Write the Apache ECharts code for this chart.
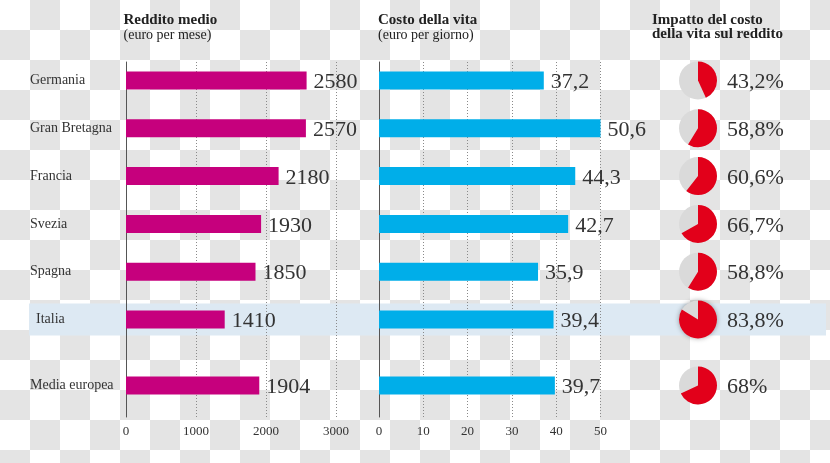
<!DOCTYPE html>
<html>
<head>
<meta charset="utf-8">
<script src="https://cdn.jsdelivr.net/npm/echarts@6/dist/echarts.min.js"></script>
<style>
  html, body { margin: 0; padding: 0; }
  #chart {
    width: 830px; height: 463px;
    background-color: #ffffff;
    background-image: repeating-conic-gradient(#e4e4e4 0% 25%, #ffffff 0% 50%);
    background-size: 60px 60px;
    background-position: 0 0;
  }
</style>
</head>
<body>
<div id="chart"></div>
<script>
// ---- data ----
const countries = ['Germania', 'Gran Bretagna', 'Francia', 'Svezia', 'Spagna', 'Italia'];
const averageLabel = 'Media europea';
const reddito = [2580, 2570, 2180, 1930, 1850, 1410];
const redditoMedia = 1904;
const costo = [37.2, 50.6, 44.3, 42.7, 35.9, 39.4];
const costoMedia = 39.7;
const impatto = [43.2, 58.8, 60.6, 66.7, 58.8, 83.8];
const impattoMedia = 68;
const redditoTicks = { min: 0, max: 3000, interval: 1000 };
const costoTicks = { min: 0, max: 50, interval: 10 };
const highlighted = 'Italia';

// ---- layout ----
const FONT = '"Liberation Serif", "DejaVu Serif", serif';
const ROW0 = 80.5, STEP = 47.8;
const AVG_CENTER = 385.5;
const FRAME_TOP = 62, FRAME_BOTTOM = 417;
const cols = [
  { left: 126, width: 210 },
  { left: 379, width: 221.5 },
  { left: 698, width: 1 }
];
const topA = ROW0 - STEP / 2, heightA = STEP * countries.length;
const topB = AVG_CENTER - STEP / 2, heightB = STEP;

const fmt = v => String(v).replace('.', ',');

const grids = [], xAxes = [], yAxes = [], series = [];

// frame grids (axes, grid lines)
[redditoTicks, costoTicks].forEach((t, c) => {
  grids.push({ left: cols[c].left, width: cols[c].width, top: FRAME_TOP, height: FRAME_BOTTOM - FRAME_TOP });
  const gi = grids.length - 1;
  xAxes.push({
    gridIndex: gi, type: 'value', min: t.min, max: t.max, interval: t.interval,
    axisLine: { show: false }, axisTick: { show: false },
    axisLabel: { fontFamily: FONT, fontSize: 13, color: '#333', margin: 8, formatter: v => String(v) },
    splitLine: { show: true, lineStyle: { color: '#8a8a8a', width: 1, type: [1, 2] } }
  });
  yAxes.push({
    gridIndex: gi, type: 'value', min: 0, max: 1,
    axisLine: { show: true, lineStyle: { color: '#555', width: 1 } },
    axisTick: { show: false }, axisLabel: { show: false }, splitLine: { show: false }
  });
});

function addGrid(col, top, height, cats, showLabels, xr) {
  grids.push({ left: cols[col].left, width: cols[col].width, top: top, height: height });
  const gi = grids.length - 1;
  xAxes.push({ gridIndex: gi, type: 'value', min: xr.min, max: xr.max, show: false });
  yAxes.push({
    gridIndex: gi, type: 'category', data: cats, inverse: true,
    axisLine: { show: false }, axisTick: { show: false }, splitLine: { show: false },
    axisLabel: showLabels ? {
      show: true, align: 'left', margin: cols[0].left - 30, fontFamily: FONT, fontSize: 14, color: '#333',
      formatter: v => v === highlighted ? '{hl|' + v + '}' : v,
      rich: { hl: { fontFamily: FONT, fontSize: 14, color: '#333', padding: [0, 0, 0, 6] } }
    } : { show: false }
  });
  return xAxes.length - 1;
}

function barLabel(formatter) {
  return { show: true, position: 'right', distance: 7, offset: [0, 2], fontFamily: FONT, fontSize: 22, color: '#333', formatter: formatter };
}

// column 1: reddito
[[countries, reddito], [[averageLabel], [redditoMedia]]].forEach((d, k) => {
  const ai = addGrid(0, k === 0 ? topA : topB, k === 0 ? heightA : heightB, d[0], true, redditoTicks);
  series.push({
    type: 'bar', xAxisIndex: ai, yAxisIndex: ai, data: d[1], barWidth: 18,
    itemStyle: { color: '#c6007d' }, label: barLabel(p => String(p.value)), silent: true
  });
});
// column 2: costo
[[countries, costo], [[averageLabel], [costoMedia]]].forEach((d, k) => {
  const ai = addGrid(1, k === 0 ? topA : topB, k === 0 ? heightA : heightB, d[0], false, costoTicks);
  series.push({
    type: 'bar', xAxisIndex: ai, yAxisIndex: ai, data: d[1], barWidth: 18,
    itemStyle: { color: '#00aee9' }, label: barLabel(p => fmt(p.value)), silent: true
  });
});
// column 3: impatto (small pies)
[[countries, impatto], [[averageLabel], [impattoMedia]]].forEach((d, k) => {
  const ai = addGrid(2, k === 0 ? topA : topB, k === 0 ? heightA : heightB, d[0], false, { min: 0, max: 1 });
  series.push({
    type: 'custom', xAxisIndex: ai, yAxisIndex: ai, silent: true,
    encode: { x: 0, y: 1 },
    data: d[1].map((v, i) => [0, i, v]),
    renderItem: function (params, api) {
      const pt = api.coord([api.value(0), api.value(1)]);
      const cx = pt[0], cy = pt[1], r = 19;
      const pct = api.value(2);
      const name = d[0][params.dataIndex];
      const hl = name === highlighted;
      const a0 = -Math.PI / 2;
      return {
        type: 'group',
        children: [
          { type: 'circle', shape: { cx: cx, cy: cy, r: r },
            style: hl ? { fill: '#dadada', shadowBlur: 5, shadowColor: 'rgba(0,0,0,0.35)' } : { fill: '#dadada' } },
          { type: 'sector', shape: { cx: cx, cy: cy, r: r, r0: 0, startAngle: a0, endAngle: a0 + 2 * Math.PI * pct / 100, clockwise: true },
            style: { fill: '#e2001a' } },
          { type: 'text', x: cx + 29, y: cy + 2,
            style: { text: fmt(pct) + '%', fill: '#333', fontSize: 22, fontFamily: FONT, align: 'left', verticalAlign: 'middle' } }
        ]
      };
    }
  });
});

const hlIndex = countries.indexOf(highlighted);
const titleStyle = (text, bold) => ({ text: text, fill: '#222', fontSize: bold ? 15 : 14, fontWeight: bold ? 'bold' : 'normal', fontFamily: FONT, verticalAlign: 'middle' });

const option = {
  animation: false,
  grid: grids, xAxis: xAxes, yAxis: yAxes, series: series,
  graphic: [
    { type: 'rect', z: -10, silent: true,
      shape: { x: 29, y: ROW0 + hlIndex * STEP - 16, width: 797, height: 32 },
      style: { fill: '#dde9f3' } },
    { type: 'text', x: 123.5, y: 20, style: titleStyle('Reddito medio', true) },
    { type: 'text', x: 123.5, y: 35.5, style: titleStyle('(euro per mese)', false) },
    { type: 'text', x: 378, y: 20, style: titleStyle('Costo della vita', true) },
    { type: 'text', x: 378, y: 35.5, style: titleStyle('(euro per giorno)', false) },
    { type: 'text', x: 652, y: 20.5, style: titleStyle('Impatto del costo', true) },
    { type: 'text', x: 652, y: 34.5, style: titleStyle('della vita sul reddito', true) }
  ]
};

const chart = echarts.init(document.getElementById('chart'), null, { renderer: 'canvas' });
chart.setOption(option);
</script>
</body>
</html>
